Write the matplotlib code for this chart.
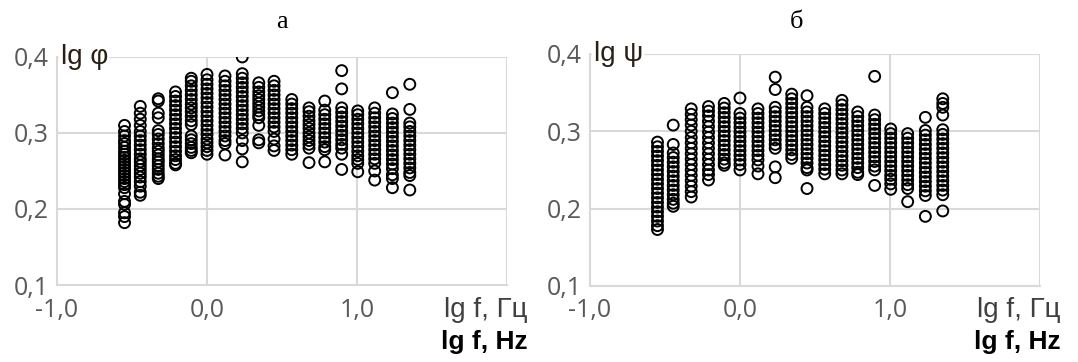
import matplotlib
matplotlib.use("Agg")
import matplotlib.pyplot as plt

# lg f positions of the measurement columns
lg_f = [-0.55, -0.445, -0.325, -0.21, -0.105, 0.0, 0.12, 0.235, 0.345,
        0.447, 0.565, 0.68, 0.785, 0.898, 1.005, 1.118, 1.236, 1.352]

# panel a: lg phi, one list per column
lg_phi = [
    [0.310, 0.302, 0.296, 0.290, 0.286, 0.281, 0.276, 0.272, 0.268, 0.264, 0.260, 0.256, 0.252,
     0.248, 0.244, 0.240, 0.236, 0.232, 0.228, 0.220, 0.210, 0.206, 0.195, 0.190, 0.182],
    [0.335, 0.326, 0.318, 0.310, 0.302, 0.296, 0.290, 0.284, 0.278, 0.272, 0.266, 0.262, 0.257,
     0.252, 0.247, 0.242, 0.236, 0.230, 0.222, 0.218],
    [0.345, 0.342, 0.326, 0.320, 0.303, 0.298, 0.292, 0.286, 0.280, 0.276, 0.271, 0.266, 0.262,
     0.257, 0.252, 0.247, 0.243, 0.240],
    [0.354, 0.348, 0.342, 0.336, 0.330, 0.324, 0.318, 0.312, 0.306, 0.300, 0.294, 0.288, 0.282,
     0.276, 0.270, 0.265, 0.260, 0.258],
    [0.372, 0.368, 0.362, 0.356, 0.350, 0.344, 0.338, 0.333, 0.328, 0.322, 0.316, 0.311, 0.296,
     0.291, 0.286, 0.281, 0.277, 0.274],
    [0.377, 0.370, 0.364, 0.358, 0.352, 0.346, 0.340, 0.334, 0.328, 0.322, 0.316, 0.310, 0.304,
     0.298, 0.292, 0.287, 0.282, 0.277, 0.272],
    [0.375, 0.368, 0.362, 0.356, 0.350, 0.344, 0.338, 0.332, 0.326, 0.320, 0.314, 0.308, 0.302,
     0.296, 0.290, 0.286, 0.271],
    [0.400, 0.378, 0.372, 0.366, 0.360, 0.354, 0.348, 0.342, 0.336, 0.330, 0.324, 0.318, 0.312,
     0.306, 0.300, 0.290, 0.279, 0.262],
    [0.366, 0.360, 0.354, 0.349, 0.344, 0.339, 0.334, 0.329, 0.324, 0.320, 0.310, 0.291, 0.287],
    [0.368, 0.362, 0.356, 0.350, 0.344, 0.338, 0.332, 0.326, 0.320, 0.314, 0.308, 0.302, 0.292,
     0.283, 0.277],
    [0.344, 0.338, 0.332, 0.326, 0.320, 0.314, 0.308, 0.302, 0.296, 0.290, 0.284, 0.278, 0.272],
    [0.333, 0.328, 0.322, 0.316, 0.311, 0.306, 0.300, 0.295, 0.290, 0.285, 0.280, 0.261],
    [0.342, 0.330, 0.324, 0.318, 0.312, 0.306, 0.300, 0.294, 0.288, 0.282, 0.278, 0.262],
    [0.382, 0.358, 0.333, 0.327, 0.321, 0.315, 0.309, 0.303, 0.297, 0.291, 0.285, 0.280, 0.272,
     0.252],
    [0.329, 0.324, 0.318, 0.312, 0.306, 0.300, 0.294, 0.288, 0.282, 0.276, 0.270, 0.265, 0.260,
     0.249],
    [0.333, 0.326, 0.320, 0.314, 0.308, 0.302, 0.296, 0.290, 0.284, 0.278, 0.272, 0.266, 0.260,
     0.250, 0.238],
    [0.353, 0.325, 0.319, 0.313, 0.307, 0.301, 0.295, 0.289, 0.283, 0.277, 0.271, 0.265, 0.259,
     0.253, 0.245, 0.240, 0.228],
    [0.364, 0.331, 0.313, 0.308, 0.302, 0.296, 0.290, 0.284, 0.278, 0.272, 0.266, 0.260, 0.254,
     0.248, 0.244, 0.225],
]

# panel b: lg psi, one list per column
lg_psi = [
    [0.286, 0.280, 0.274, 0.268, 0.262, 0.256, 0.250, 0.244, 0.238, 0.232, 0.226, 0.220, 0.214,
     0.208, 0.202, 0.196, 0.190, 0.184, 0.178, 0.173],
    [0.308, 0.283, 0.272, 0.266, 0.260, 0.254, 0.248, 0.242, 0.236, 0.230, 0.224, 0.218, 0.212,
     0.207, 0.203],
    [0.329, 0.322, 0.315, 0.308, 0.300, 0.292, 0.285, 0.278, 0.271, 0.264, 0.257, 0.250, 0.243,
     0.236, 0.229, 0.222, 0.215],
    [0.332, 0.326, 0.320, 0.313, 0.306, 0.299, 0.292, 0.285, 0.278, 0.271, 0.264, 0.257, 0.250,
     0.244, 0.237],
    [0.336, 0.330, 0.324, 0.318, 0.312, 0.306, 0.300, 0.294, 0.288, 0.282, 0.276, 0.270, 0.264,
     0.259, 0.256],
    [0.343, 0.323, 0.317, 0.311, 0.305, 0.299, 0.293, 0.287, 0.281, 0.275, 0.269, 0.263, 0.257,
     0.250],
    [0.329, 0.323, 0.317, 0.311, 0.305, 0.299, 0.293, 0.287, 0.281, 0.275, 0.269, 0.263, 0.255,
     0.245],
    [0.370, 0.354, 0.331, 0.325, 0.319, 0.313, 0.307, 0.301, 0.295, 0.289, 0.283, 0.278, 0.254,
     0.240],
    [0.348, 0.342, 0.336, 0.330, 0.324, 0.318, 0.312, 0.306, 0.300, 0.294, 0.288, 0.282, 0.276,
     0.270, 0.265],
    [0.346, 0.331, 0.325, 0.319, 0.313, 0.307, 0.301, 0.295, 0.289, 0.283, 0.277, 0.271, 0.265,
     0.259, 0.253, 0.250, 0.226],
    [0.329, 0.323, 0.317, 0.311, 0.305, 0.299, 0.293, 0.287, 0.281, 0.275, 0.269, 0.263, 0.257,
     0.251, 0.245],
    [0.340, 0.334, 0.328, 0.322, 0.316, 0.310, 0.304, 0.298, 0.292, 0.286, 0.280, 0.274, 0.268,
     0.262, 0.256, 0.250, 0.245],
    [0.325, 0.319, 0.313, 0.307, 0.301, 0.295, 0.289, 0.283, 0.277, 0.271, 0.265, 0.259, 0.253,
     0.247, 0.244],
    [0.371, 0.321, 0.315, 0.309, 0.303, 0.297, 0.291, 0.285, 0.279, 0.273, 0.267, 0.261, 0.255,
     0.250, 0.230],
    [0.303, 0.297, 0.291, 0.285, 0.279, 0.273, 0.267, 0.261, 0.255, 0.249, 0.243, 0.238, 0.232,
     0.225],
    [0.297, 0.291, 0.285, 0.279, 0.273, 0.267, 0.261, 0.255, 0.249, 0.243, 0.237, 0.231, 0.226,
     0.209],
    [0.318, 0.301, 0.295, 0.289, 0.283, 0.277, 0.271, 0.265, 0.259, 0.253, 0.247, 0.241, 0.235,
     0.229, 0.223, 0.217, 0.190],
    [0.342, 0.336, 0.331, 0.321, 0.302, 0.296, 0.290, 0.284, 0.278, 0.272, 0.266, 0.260, 0.254,
     0.248, 0.242, 0.236, 0.230, 0.224, 0.218, 0.197],
]

x_ticks = [-1.0, 0.0, 1.0]
x_tick_labels = ["-1,0", "0,0", "1,0"]
y_ticks = [0.1, 0.2, 0.3, 0.4]
y_tick_labels = ["0,1", "0,2", "0,3", "0,4"]

# letter, y label, data, axes rect, letter x position
panels = [
    ("а", "lg φ", lg_phi, [0.0529, 0.2127, 0.4174, 0.630], 0.2616),
    ("б", "lg ψ", lg_psi, [0.5473, 0.2100, 0.4174, 0.641], 0.7393),
]

grid_color = "#d9d9d9"
tick_color = "#595959"

fig = plt.figure(figsize=(10.78, 3.62), dpi=100)

for letter, ylab, columns, rect, letter_x in panels:
    ax = fig.add_axes(rect)
    xs = []
    ys = []
    for xv, col in zip(lg_f, columns):
        xs.extend([xv] * len(col))
        ys.extend(col)
    ax.scatter(xs, ys, s=62, facecolors="none", edgecolors="black",
               linewidths=1.4, zorder=3)

    ax.set_xlim(-1.0, 2.0)
    ax.set_ylim(0.1, 0.4)
    ax.set_xticks(x_ticks)
    ax.set_xticklabels(x_tick_labels)
    ax.set_yticks(y_ticks)
    ax.set_yticklabels(y_tick_labels)
    ax.tick_params(length=0, labelsize=18, colors=tick_color)
    ax.tick_params(axis="x", pad=9)
    ax.tick_params(axis="y", pad=6)
    for lbl in ax.get_xticklabels() + ax.get_yticklabels():
        lbl.set_family("Open Sans")

    for g in [0.2, 0.3, 0.4]:
        ax.axhline(g, color=grid_color, lw=1.5, zorder=1)
    for g in [0.0, 1.0, 2.0]:
        ax.axvline(g, color=grid_color, lw=1.5, zorder=1)
    for side in ["top", "right"]:
        ax.spines[side].set_visible(False)
    for side in ["left", "bottom"]:
        ax.spines[side].set_color(grid_color)
        ax.spines[side].set_linewidth(1.5)

    ax.text(0.008, 1.0, ylab, transform=ax.transAxes, fontsize=20,
            color="#2b2014", ha="left", va="center", family="Liberation Sans",
            bbox=dict(facecolor="white", edgecolor="none", pad=1), zorder=5)

    fig.text(letter_x, 0.94, letter, ha="center", va="center",
             family="Liberation Serif", fontsize=19)

    x_right = rect[0] + rect[2] + 0.019
    fig.text(x_right, 0.144, "lg f, Гц", ha="right", va="center", fontsize=20,
             color="#404040", family="Liberation Sans")
    fig.text(x_right, 0.055, "lg f, Hz", ha="right", va="center", fontsize=19,
             fontweight="bold", color="black", family="Liberation Sans")

fig.savefig("out.png", dpi=100)
